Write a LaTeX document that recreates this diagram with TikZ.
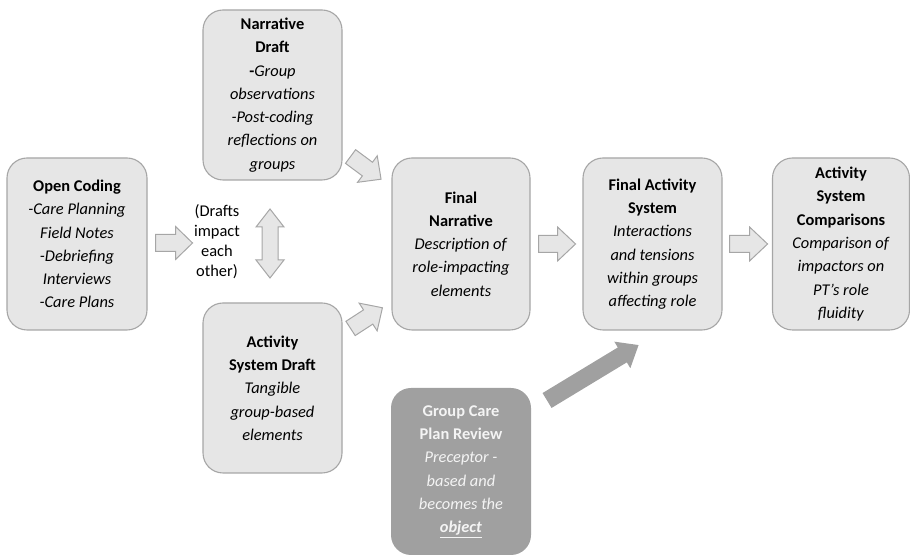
\documentclass[tikz,border=0pt]{standalone}
\usepackage{fontspec}
\setmainfont{Carlito}
\usetikzlibrary{calc}

\definecolor{boxfill}{HTML}{E6E6E6}
\definecolor{boxline}{HTML}{A6A6A6}
\definecolor{darkfill}{HTML}{A0A0A0}
\definecolor{darktext}{HTML}{F4F4F4}

\tikzset{
  stage/.style={draw=boxline, fill=boxfill, line width=1.1pt, rounded corners=20pt,
    minimum width=140pt, minimum height=172pt, inner sep=0pt, align=center,
    font=\fontsize{16.4}{23.3}\selectfont, text=black},
  keystage/.style={stage, draw=none, fill=darkfill, text=darktext},
  flowarrow/.style={draw=boxline, fill=boxfill, line width=1pt, line join=miter},
  bigarrow/.style={fill=darkfill, draw=none},
  notetext/.style={align=center, inner sep=0pt, font=\fontsize{16.4}{20}\selectfont},
}

% block arrow: style, tail point, angle, length, shaft half-width, head half-width, head length
\newcommand\flowarr[7]{%
  \begin{scope}[shift={#2}, rotate=#3]
    \path[#1] (0,-#5) -- ({#4-#7},-#5) -- ({#4-#7},-#6) -- (#4,0) -- ({#4-#7},#6)
      -- ({#4-#7},#5) -- (0,#5) -- cycle;
  \end{scope}}

\begin{document}
\begin{tikzpicture}[x=1pt, y=1pt]
  \useasboundingbox (0,0) rectangle (910,556);

  % stages
  \node[stage] (oc) at (77,312) {\textbf{Open Coding}\\\textit{-Care Planning}\\\textit{Field Notes}\\\textit{-Debriefing}\\\textit{Interviews}\\\textit{-Care Plans}};
  \node[stage, minimum width=139pt, minimum height=170pt] (nd) at (272.5,461)
    {\textbf{Narrative}\\\textbf{Draft}\\\textbf{-}\textit{Group}\\\textit{observations}\\\textit{-Post-coding}\\\textit{reflections on}\\\textit{groups}};
  \node[stage, minimum width=139pt, minimum height=170pt] (ad) at (272.5,168)
    {\textbf{Activity}\\\textbf{System Draft}\\\textit{Tangible}\\\textit{group-based}\\\textit{elements}};
  \node[stage, minimum width=138pt] (fn) at (461,312)
    {\textbf{Final}\\\textbf{Narrative}\\\textit{Description of}\\\textit{role-impacting}\\\textit{elements}};
  \node[stage, minimum width=139pt] (fa) at (652.5,312)
    {\textbf{Final Activity}\\\textbf{System}\\\textit{Interactions}\\\textit{and tensions}\\\textit{within groups}\\\textit{affecting role}};
  \node[stage, minimum width=137pt] (ac) at (841,312)
    {\textbf{Activity}\\\textbf{System}\\\textbf{Comparisons}\\\textit{Comparison of}\\\textit{impactors on}\\\textit{PT’s role}\\\textit{fluidity}};
  \node[keystage, minimum height=167pt] (gc) at (461,84.5)
    {\textbf{Group Care}\\\textbf{Plan Review}\\\textit{Preceptor -}\\\textit{based and}\\\textit{becomes the}\\\underline{\textbf{\textit{object}}}};

  % note between the drafts
  \node[notetext] (note) at (217,314) {(Drafts\\impact\\each\\other)};

  % horizontal flow arrows
  \flowarr{flowarrow}{($(oc.east)+(8,1)$)}{0}{37}{8.5}{16.5}{17}
  \flowarr{flowarrow}{($(fn.east)+(8,0)$)}{0}{37}{8.5}{17}{18}
  \flowarr{flowarrow}{($(fa.east)+(7,0)$)}{0}{38}{8.5}{17}{18}

  % diagonal arrows from the drafts into the final narrative
  \flowarr{flowarrow}{($(nd.south east)+(8,24)$)}{-36.6}{38}{8.5}{16.5}{17}
  \flowarr{flowarrow}{($(ad.north east)+(8,-26)$)}{33}{38}{8.5}{16.5}{17}

  % two-way arrow between the drafts
  \coordinate (mid) at ($(nd.south)!0.5!(ad.north)+(-2.5,-2)$);
  \begin{scope}[shift={(mid)}]
    \path[flowarrow] (-8,-16.5) -- (-8,16.5) -- (-14,16.5) -- (0,34.5) -- (14,16.5)
      -- (8,16.5) -- (8,-16.5) -- (14,-16.5) -- (0,-34.5) -- (-14,-16.5) -- cycle;
  \end{scope}

  % object arrow into the final activity system
  \flowarr{bigarrow}{($(gc.east)+(15.5,71)$)}{31.2}{107}{8.7}{15.5}{19}
\end{tikzpicture}
\end{document}
